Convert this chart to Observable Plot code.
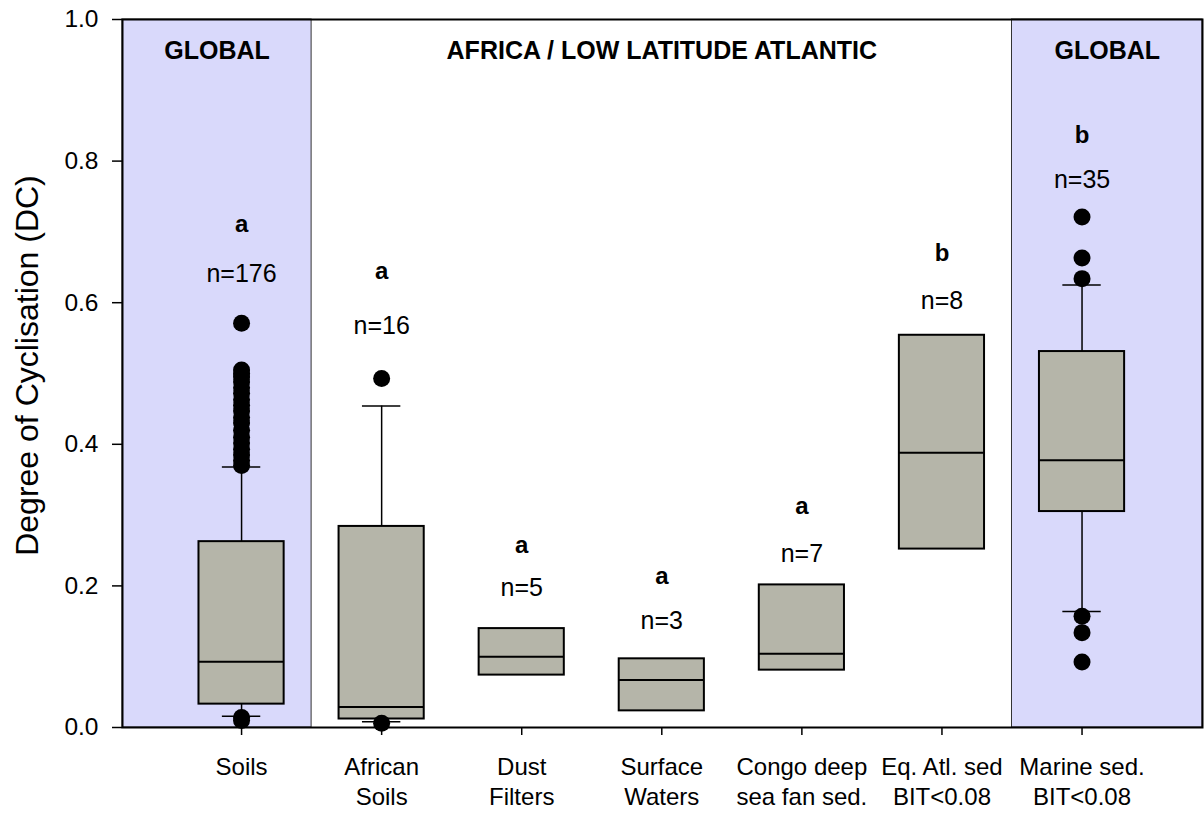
<!DOCTYPE html>
<html>
<head>
<meta charset="utf-8">
<script src="https://cdn.jsdelivr.net/npm/d3@7"></script>
<script src="https://cdn.jsdelivr.net/npm/@observablehq/plot@0.6"></script>
<style>
  html, body { margin: 0; padding: 0; background: #ffffff; }
  #chart { width: 1204px; height: 813px; }
</style>
</head>
<body>
<div id="chart"></div>
<script>
// ---- data ----
const categories = ["Soils", "African\nSoils", "Dust\nFilters", "Surface\nWaters", "Congo deep\nsea fan sed.", "Eq. Atl. sed\nBIT<0.08", "Marine sed.\nBIT<0.08"];
const q1 = [0.033, 0.012, 0.074, 0.0235, 0.081, 0.252, 0.305];
const medians = [0.093, 0.029, 0.100, 0.067, 0.104, 0.388, 0.3775];
const q3 = [0.2625, 0.284, 0.1397, 0.097, 0.2014, 0.554, 0.531];
const whiskerLow = [0.016, 0.008, null, null, null, null, 0.164];
const whiskerHigh = [0.368, 0.454, null, null, null, null, 0.625];
const outliers = [
  [0.571, 0.505, 0.500, 0.495, 0.488, 0.480, 0.472, 0.463, 0.455, 0.447, 0.438, 0.430, 0.420, 0.410, 0.402, 0.393, 0.385, 0.377, 0.370, 0.014, 0.010],
  [0.493, 0.006],
  [],
  [],
  [],
  [],
  [0.721, 0.663, 0.634, 0.157, 0.134, 0.0925]
];
const letters = ["a", "a", "a", "a", "a", "b", "b"];
const nLabels = ["n=176", "n=16", "n=5", "n=3", "n=7", "n=8", "n=35"];
const letterY = [0.711, 0.645, 0.258, 0.214, 0.312, 0.670, 0.836];
const nLabelY = [0.640, 0.567, 0.197, 0.151, 0.245, 0.602, 0.773];
const regionNames = ["GLOBAL", "AFRICA / LOW LATITUDE ATLANTIC", "GLOBAL"];
const regionFirst = [0, 1, 6];   // first category index in each region
const regionLast = [0, 5, 6];    // last category index in each region
const regionShaded = [true, false, true];
const yTicks = [0, 0.2, 0.4, 0.6, 0.8, 1.0];
const headerY = 0.955;

// ---- layout helpers ----
const xDomain = [-0.85, 6.86];
const boxHalf = 0.304;
const capHalf = 0.137;

const rows = categories.map((c, i) => ({
  i, cat: c, q1: q1[i], med: medians[i], q3: q3[i],
  lo: whiskerLow[i], hi: whiskerHigh[i],
  letter: letters[i], n: nLabels[i], ly: letterY[i], ny: nLabelY[i]
}));
const outRows = outliers.flatMap((arr, i) => arr.map(v => ({i, v})));
const regions = regionNames.map((name, k) => ({
  name,
  from: k === 0 ? xDomain[0] : regionFirst[k] - 0.5,
  to: k === regionNames.length - 1 ? xDomain[1] : regionLast[k] + 0.5,
  shaded: regionShaded[k]
}));
const withWhiskers = rows.filter(d => d.hi != null);

const chart = Plot.plot({
  width: 1204,
  height: 813,
  marginLeft: 122,
  marginRight: 2,
  marginTop: 19,
  marginBottom: 86,
  style: {fontFamily: "'Liberation Sans', Arial, sans-serif", fontSize: "24px", background: "#ffffff", color: "#000"},
  x: {domain: xDomain},
  y: {domain: [0, 1]},
  marks: [
    Plot.rect(regions.filter(d => d.shaded), {x1: "from", x2: "to", y1: 0, y2: 1, fill: "#d9d9fb", stroke: "#333", strokeWidth: 1}),
    Plot.text(regions, {x: d => (d.from + d.to) / 2, y: headerY, text: "name", fontWeight: "bold", fontSize: 25, fill: "#000"}),
    Plot.ruleX(withWhiskers, {x: "i", y1: "q3", y2: "hi", stroke: "#000", strokeWidth: 1.5}),
    Plot.ruleX(withWhiskers, {x: "i", y1: "q1", y2: "lo", stroke: "#000", strokeWidth: 1.5}),
    Plot.ruleY(withWhiskers, {y: "hi", x1: d => d.i - capHalf, x2: d => d.i + capHalf, stroke: "#000", strokeWidth: 1.5}),
    Plot.ruleY(withWhiskers, {y: "lo", x1: d => d.i - capHalf, x2: d => d.i + capHalf, stroke: "#000", strokeWidth: 1.5}),
    Plot.rect(rows, {x1: d => d.i - boxHalf, x2: d => d.i + boxHalf, y1: "q1", y2: "q3", fill: "#b5b5a9", stroke: "#000", strokeWidth: 2}),
    Plot.ruleY(rows, {y: "med", x1: d => d.i - boxHalf, x2: d => d.i + boxHalf, stroke: "#000", strokeWidth: 2}),
    Plot.dot(outRows, {x: "i", y: "v", r: 8.5, fill: "#000", stroke: "none"}),
    Plot.text(rows, {x: "i", y: "ly", text: "letter", fontWeight: "bold", fontSize: 24, fill: "#000"}),
    Plot.text(rows, {x: "i", y: "ny", text: "n", fontSize: 25, fill: "#000"}),
    Plot.frame({stroke: "#000", strokeWidth: 2}),
    Plot.axisY({ticks: yTicks, tickFormat: d3.format(".1f"), tickSize: 10, tickPadding: 14, label: null, fontSize: 24.5, strokeWidth: 1.5}),
    Plot.axisX({ticks: d3.range(categories.length), tickFormat: i => categories[i], tickSize: 8, tickPadding: 18, label: null, fontSize: 24, lineHeight: 1.25, strokeWidth: 1.5}),
    Plot.text(["Degree of Cyclisation (DC)"], {frameAnchor: "left", dx: -95, dy: -8, rotate: -90, textAnchor: "middle", fontSize: 32, fill: "#000"})
  ]
});
document.getElementById("chart").appendChild(chart);
</script>
</body>
</html>
